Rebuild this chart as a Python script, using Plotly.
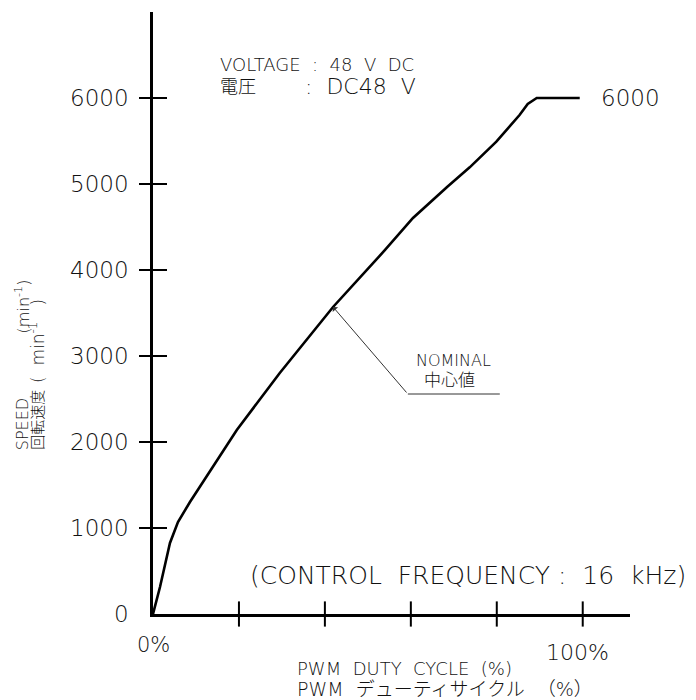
import plotly.graph_objects as go

# ---- data ----
duty_pct = [0, 1.63, 3.95, 5.81, 8.6, 14.4, 19.5, 29.5, 41.9, 54.0, 60.5, 68.5, 73.7, 79.9, 85.3, 87.2, 89.3, 99.3]
speed_rpm = [0, 314, 826, 1070, 1302, 1744, 2140, 2802, 3570, 4233, 4605, 4969, 5194, 5492, 5802, 5930, 6000, 6000]

x_ticks = [20, 40, 60, 80, 100]
y_ticks = [1000, 2000, 3000, 4000, 5000, 6000]
y_tick_labels = ["0", "1000", "2000", "3000", "4000", "5000", "6000"]
y_tick_vals = [0] + y_ticks

X_MAX = 111
Y_MAX = 7000

FONT = "DejaVu Sans, Noto Sans CJK JP, sans-serif"
TXT = "#111111"
SP = "\u00a0"

fig = go.Figure()

# curve
fig.add_trace(go.Scatter(x=duty_pct, y=speed_rpm, mode="lines",
                         line=dict(color="black", width=2.6), cliponaxis=False,
                         hoverinfo="skip", showlegend=False))

# crossing tick marks
fig.add_trace(go.Scatter(x=x_ticks, y=[0] * len(x_ticks), mode="markers",
                         marker=dict(symbol="line-ns", size=18, line=dict(color="black", width=2)),
                         cliponaxis=False, hoverinfo="skip", showlegend=False))
fig.add_trace(go.Scatter(x=[0] * len(y_ticks), y=y_ticks, mode="markers",
                         marker=dict(symbol="line-ew", size=20, line=dict(color="black", width=2)),
                         cliponaxis=False, hoverinfo="skip", showlegend=False))


def txt(x, y, text, size, xanchor="left", yanchor="middle", angle=0):
    # positions given in data units, placed via paper coordinates so they may sit outside the axes
    fig.add_annotation(x=x / X_MAX, y=y / Y_MAX, xref="paper", yref="paper", text=text,
                       showarrow=False, xanchor=xanchor, yanchor=yanchor, textangle=angle,
                       font=dict(family=FONT, size=size, color=TXT, weight=200))


# texts
txt(15.1, 6384, f"VOLTAGE{SP}{SP}:{SP}{SP}48{SP}{SP}V{SP}{SP}DC", 18)
txt(15.1, 6128, "電圧", 18)
txt(34.9, 6128, f":{SP}{SP}DC48{SP}{SP}V", 22)
txt(111, 6000, "6000", 23, xanchor="center")
txt(22.0, 453, f"(CONTROL{SP}{SP}FREQUENCY{SP}:{SP}{SP}16{SP}{SP}kHz)", 25)
txt(70.0, 2953, "NOMINAL", 16, xanchor="center")
txt(69.1, 2721, "中心値", 17, xanchor="center")
txt(0, -360, "0%", 21, xanchor="center")
txt(98.8, -442, "100%", 22, xanchor="center")
txt(33.0, -628, f"PWM{SP}{SP}DUTY{SP}{SP}CYCLE{SP}{SP}(%)", 18)
txt(33.0, -868, f"PWM{SP}{SP}デューティサイクル{SP}{SP}（%）", 19)

# rotated y-axis title, two columns
txt(-30.2, 1884, "SPEED", 16, xanchor="center", yanchor="bottom", angle=-90)
txt(-30.4, 3244, "(min<sup>-1</sup>)", 16, xanchor="center", yanchor="bottom", angle=-90)
txt(-26.8, 1884, "回転速度", 15, xanchor="center", yanchor="bottom", angle=-90)
txt(-27.0, 2663, f"({SP}{SP}min<sup>-1</sup>{SP}{SP}{SP})", 17, xanchor="center", yanchor="bottom", angle=-90)

# leader line with arrow to the nominal curve
fig.add_annotation(x=41.9, y=3570, ax=59.3, ay=2558, xref="x", yref="y", axref="x", ayref="y",
                   text="", showarrow=True, arrowhead=1, arrowsize=1.2, arrowwidth=1,
                   arrowcolor="#333")
fig.add_shape(type="line", x0=59.3, y0=2558, x1=80.7, y1=2558, xref="x", yref="y",
              line=dict(color="#333", width=1))

fig.update_xaxes(range=[0, X_MAX], showline=True, linecolor="black", linewidth=2.5,
                 showgrid=False, zeroline=False, ticks="", showticklabels=False)
fig.update_yaxes(range=[0, Y_MAX], showline=True, linecolor="black", linewidth=2.5,
                 showgrid=False, zeroline=False, ticks="",
                 tickvals=y_tick_vals, ticktext=y_tick_labels, ticklabelstandoff=17,
                 tickfont=dict(family=FONT, size=23, color=TXT, weight=200))

fig.update_layout(width=696, height=700, margin=dict(l=145, r=74, t=4, b=94),
                  plot_bgcolor="white", paper_bgcolor="white", showlegend=False)

fig.write_html("out.html")
